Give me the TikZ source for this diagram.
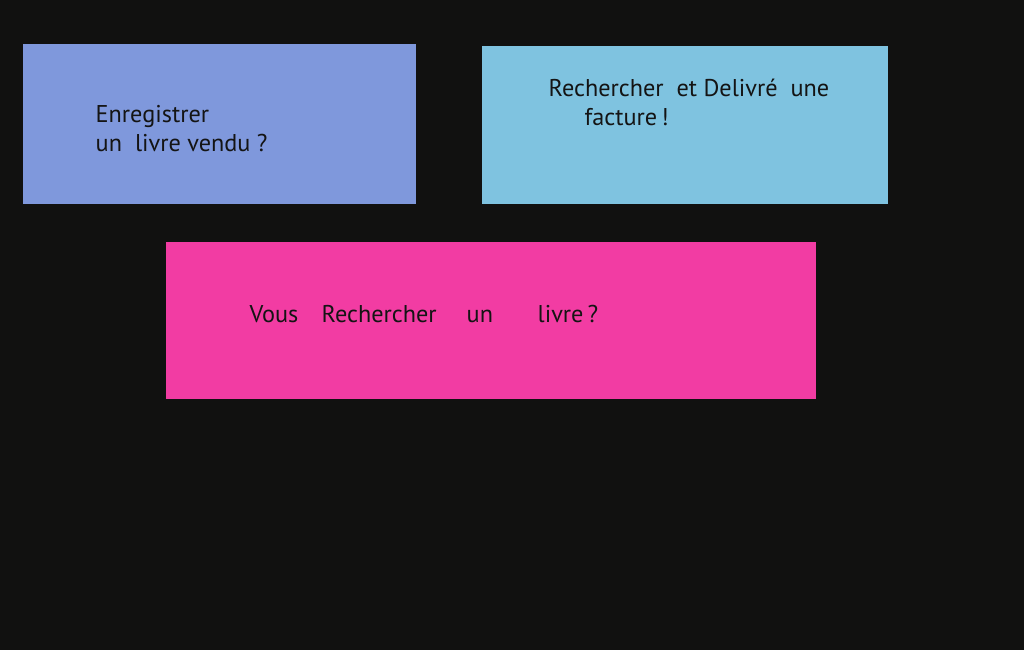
\documentclass[tikz,border=0pt]{standalone}
\usepackage{fontspec}
\setmainfont{PT Sans}
\usetikzlibrary{math}

\definecolor{fond}{HTML}{111110}
\definecolor{bleu}{HTML}{7F98DC}
\definecolor{ciel}{HTML}{7FC3E0}
\definecolor{rose}{HTML}{F23CA3}
\definecolor{encre}{HTML}{141414}

\begin{document}
\begin{tikzpicture}[x=0.01cm,y=-0.01cm,
    txt/.style={anchor=base west,inner sep=0pt,text=encre,font=\fontsize{6.9}{8.2}\selectfont}]
      \tikzmath{\h = 29;}
      \fill[fond] (0,0) rectangle (1024,650);
      \useasboundingbox (0,0) rectangle (1024,650);
      \fill[bleu] (23,44) rectangle (416,204);
      \fill[ciel] (482,46) rectangle (888,204);
      \fill[rose] (166,242) rectangle (816,399);
      \node[txt] (enr) at (95,122) {Enregistrer};
      \node[txt] (vendu) at (95,122+\h) {un\ \ livre vendu ?};
      \node[txt] (rech) at (548,96) {Rechercher\ \ et Delivré\ \ une};
      \node[txt] (fact) at (584,96+\h) {facture\,!};
      \node[txt] (vous) at (249,322) {Vous};
      \node[txt] (rechl) at (321,322) {Rechercher};
      \node[txt] (un) at (466,322) {un};
      \node[txt] (livre) at (537,322) {livre\,?};
\end{tikzpicture}
\end{document}
